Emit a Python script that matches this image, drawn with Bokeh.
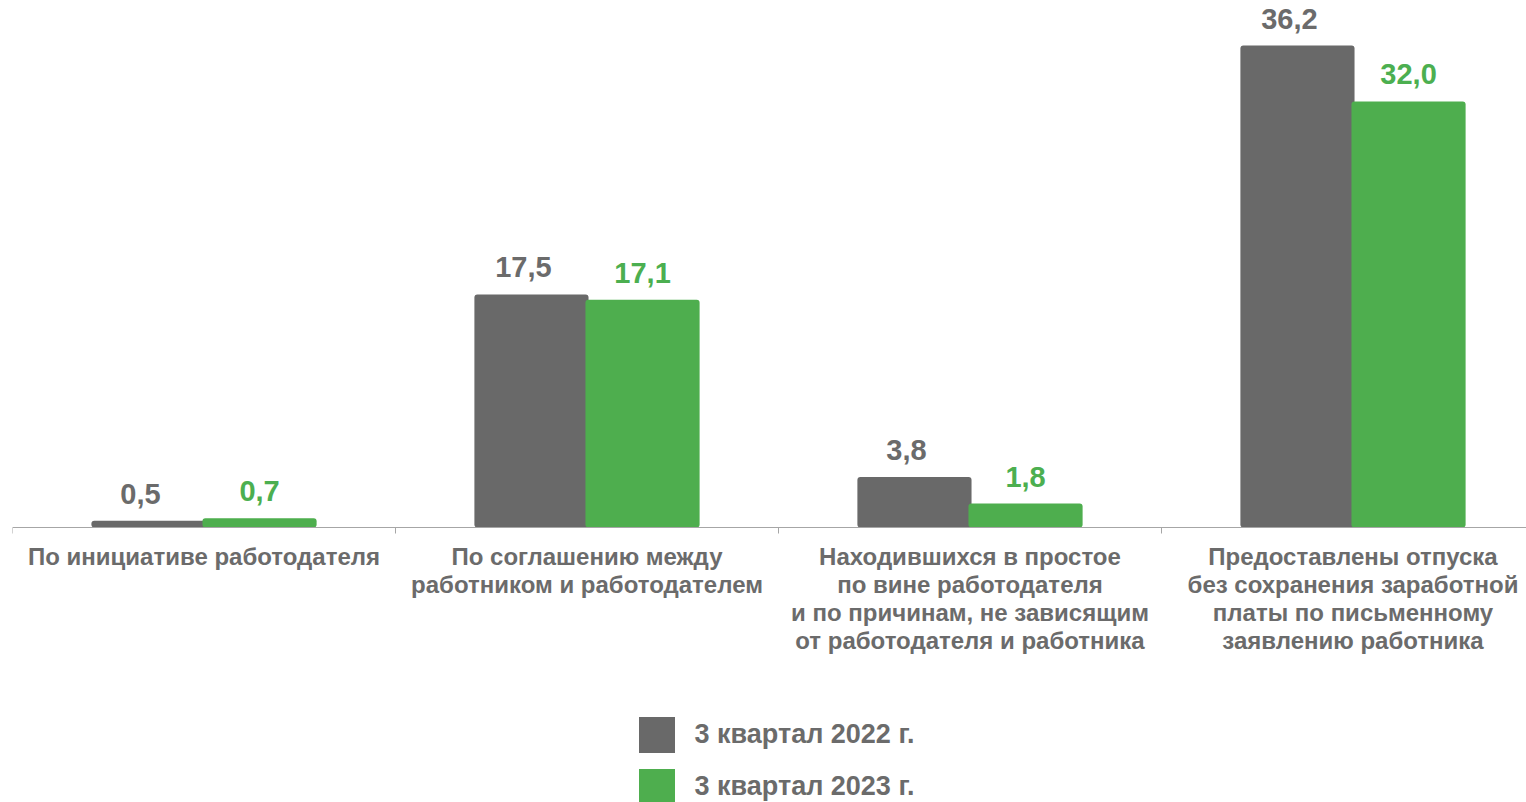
from bokeh.plotting import figure
from bokeh.models import ColumnDataSource, Legend, LegendItem, Span
from bokeh.core.properties import value
from bokeh.embed import file_html
from bokeh.resources import INLINE

# ---- data ----
categories = [
    "По инициативе работодателя",
    "По соглашению между\nработником и работодателем",
    "Находившихся в простое\nпо вине работодателя\nи по причинам, не зависящим\nот работодателя и работника",
    "Предоставлены отпуска\nбез сохранения заработной\nплаты по письменному\nзаявлению работника",
]
series_names = ["3 квартал 2022 г.", "3 квартал 2023 г."]
values_2022 = [0.5, 17.5, 3.8, 36.2]
values_2023 = [0.7, 17.1, 1.8, 32.0]

# ---- styles ----
GRAY = "#696969"
GREEN = "#4EAE4E"
TEXT_GRAY = "#6B6B6B"
TEXT_GREEN = "#4CAF50"
FONT = "Liberation Sans"

n = len(categories)
centers = [i + 0.5 for i in range(n)]
OFF = 0.145
BW = 0.298

def fmt(v):
    return f"{v:.1f}".replace(".", ",")

src22 = ColumnDataSource(dict(x=[c - OFF for c in centers], top=values_2022,
                              lab=[fmt(v) for v in values_2022]))
src23 = ColumnDataSource(dict(x=[c + OFF for c in centers], top=values_2023,
                              lab=[fmt(v) for v in values_2023]))
srccat = ColumnDataSource(dict(x=centers, y=[0] * n, lab=categories))

W, H = 1526, 802
LEFT = 12
PXU_X = 383.0
PXU_Y = 482.0 / 36.2
ZERO_Y = 527  # pixel row of the baseline
x_end = (W - LEFT) / PXU_X
y_end = ZERO_Y / PXU_Y
y_start = -(H - ZERO_Y) / PXU_Y

p = figure(width=W, height=H, x_range=(0, x_end), y_range=(y_start, y_end),
           min_border_left=LEFT, min_border_right=0, min_border_top=0, min_border_bottom=0,
           x_axis_location=None, y_axis_location=None, outline_line_color=None,
           toolbar_location=None, output_backend="svg")
p.grid.visible = False

# baseline & ticks
p.add_layout(Span(location=0, dimension="width", line_color="#A6A6A6", line_width=1))
tick_x = list(range(n))
p.segment(x0=tick_x, x1=tick_x, y0=[0] * n, y1=[-6 / PXU_Y] * n,
          line_color="#A6A6A6", line_width=1)

r22 = p.vbar(x="x", top="top", width=BW, bottom=0, source=src22, fill_color=GRAY,
             line_color=None, border_radius=3)
r23 = p.vbar(x="x", top="top", width=BW, bottom=0, source=src23, fill_color=GREEN,
             line_color=None, border_radius=3)

p.text(x="x", y="top", text="lab", source=src22, text_align="center",
       text_baseline="alphabetic", y_offset=-27, x_offset=-8,
       text_font=value(FONT), text_font_style="bold", text_font_size="29px",
       text_color=TEXT_GRAY)
p.text(x="x", y="top", text="lab", source=src23, text_align="center",
       text_baseline="alphabetic", y_offset=-27,
       text_font=value(FONT), text_font_style="bold", text_font_size="29px",
       text_color=TEXT_GREEN)

p.text(x="x", y="y", text="lab", source=srccat, text_align="center",
       text_baseline="top", y_offset=15, text_line_height=1.04,
       text_font=value(FONT), text_font_style="bold", text_font_size="24px",
       text_color=TEXT_GRAY)

legend = Legend(items=[LegendItem(label=series_names[0], renderers=[r22]),
                       LegendItem(label=series_names[1], renderers=[r23])],
                location=(638 - LEFT - 4.5, -7), orientation="vertical",
                glyph_width=45, glyph_height=45, spacing=7, label_standoff=16,
                padding=0, margin=0, border_line_color=None, background_fill_alpha=0,
                label_text_font=FONT, label_text_font_style="bold",
                label_text_font_size="27px", label_text_color=TEXT_GRAY)
p.add_layout(legend)

open("out.html", "w").write(file_html(p, INLINE))
